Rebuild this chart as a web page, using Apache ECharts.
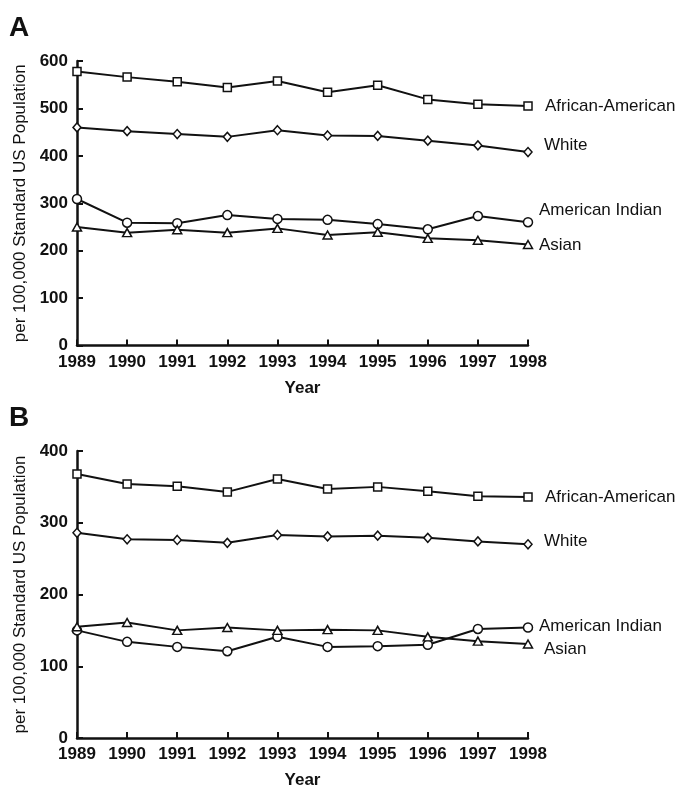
<!DOCTYPE html>
<html>
<head>
<meta charset="utf-8">
<script src="https://cdn.jsdelivr.net/npm/echarts@6/dist/echarts.min.js"></script>
<style>
html,body{margin:0;padding:0;background:#fff;}
#chart{width:678px;height:790px;}
</style>
</head>
<body>
<div id="chart"></div>
<script>
const years = ['1989','1990','1991','1992','1993','1994','1995','1996','1997','1998'];
const seriesNames = ['African-American','White','American Indian','Asian'];

// Panel A
const aAfricanAmerican = [578, 566, 556, 544, 558, 534, 549, 519, 509, 505];
const aWhite           = [460, 452, 446, 440, 454, 443, 442, 432, 422, 408];
const aAmericanIndian  = [309, 259, 258, 275, 267, 265, 256, 245, 273, 260];
const aAsian           = [250, 238, 244, 238, 247, 233, 239, 226, 222, 213];

// Panel B
const bAfricanAmerican = [368, 354, 351, 343, 361, 347, 350, 344, 337, 336];
const bWhite           = [286, 277, 276, 272, 283, 281, 282, 279, 274, 270];
const bAmericanIndian  = [150, 134, 127, 121, 141, 127, 128, 130, 152, 154];
const bAsian           = [155, 161, 150, 154, 150, 151, 150, 141, 135, 131];

const yTicksA = [0, 100, 200, 300, 400, 500, 600];
const yTicksB = [0, 100, 200, 300, 400];

const FONT = 'Liberation Sans, Arial, sans-serif';
const INK = '#111';

function xAxisFor(gridIndex) {
  return {
    type: 'category', gridIndex, data: years, boundaryGap: false,
    name: 'Year', nameLocation: 'middle', nameGap: 34,
    nameTextStyle: { fontFamily: FONT, fontWeight: 'bold', fontSize: 17, color: INK },
    axisLine: { lineStyle: { color: INK, width: 2.5 } },
    axisTick: { inside: true, length: 6, lineStyle: { color: INK, width: 2 }, alignWithLabel: true },
    axisLabel: { fontFamily: FONT, fontWeight: 'bold', fontSize: 17, color: INK, margin: 8, interval: 0 },
    splitLine: { show: false }
  };
}
function yAxisFor(gridIndex, ticks) {
  return {
    type: 'value', gridIndex, min: ticks[0], max: ticks[ticks.length - 1], interval: ticks[1] - ticks[0],
    name: 'per 100,000 Standard US Population', nameLocation: 'middle', nameGap: 47, nameRotate: 90,
    nameTextStyle: { fontFamily: FONT, fontSize: 17, color: INK },
    axisLine: { show: true, lineStyle: { color: INK, width: 2.5 } },
    axisTick: { show: true, inside: true, length: 6, lineStyle: { color: INK, width: 2 } },
    axisLabel: { fontFamily: FONT, fontWeight: 'bold', fontSize: 17, color: INK, margin: 9 },
    splitLine: { show: false }
  };
}
const symbols = { 'African-American': ['rect', 8], 'White': ['diamond', [8, 9]], 'American Indian': ['circle', 9], 'Asian': ['triangle', [9, 8]] };
function mk(name, data, idx, offY, offX) {
  return {
    type: 'line', name, data, xAxisIndex: idx, yAxisIndex: idx,
    symbol: symbols[name][0], symbolSize: symbols[name][1], showAllSymbol: true,
    lineStyle: { color: INK, width: 2 },
    itemStyle: { color: '#fff', borderColor: INK, borderWidth: 1.5 },
    emphasis: { disabled: true },
    animation: false,
    endLabel: { show: true, formatter: name, fontFamily: FONT, fontSize: 17, color: INK, offset: [offX, offY], distance: 5 }
  };
}

const chart = echarts.init(document.getElementById('chart'), null, { renderer: 'canvas' });
chart.setOption({
  backgroundColor: '#fff',
  animation: false,
  title: [
    { text: 'A', left: 9, top: 14, padding: 0, textStyle: { fontFamily: FONT, fontWeight: 'bold', fontSize: 28, color: INK } },
    { text: 'B', left: 9, top: 404, padding: 0, textStyle: { fontFamily: FONT, fontWeight: 'bold', fontSize: 28, color: INK } }
  ],
  grid: [
    { left: 77, right: 150, top: 61, height: 284.5 },
    { left: 77, right: 150, top: 451, height: 288 }
  ],
  xAxis: [xAxisFor(0), xAxisFor(1)],
  yAxis: [yAxisFor(0, yTicksA), yAxisFor(1, yTicksB)],
  series: [
    mk('African-American', aAfricanAmerican, 0, 0, 12),
    mk('White', aWhite, 0, -7, 11),
    mk('American Indian', aAmericanIndian, 0, -12, 6),
    mk('Asian', aAsian, 0, 1, 6),
    mk('African-American', bAfricanAmerican, 1, 0, 12),
    mk('White', bWhite, 1, -3, 11),
    mk('American Indian', bAmericanIndian, 1, -1, 6),
    mk('Asian', bAsian, 1, 5, 11)
  ]
});
</script>
</body>
</html>
